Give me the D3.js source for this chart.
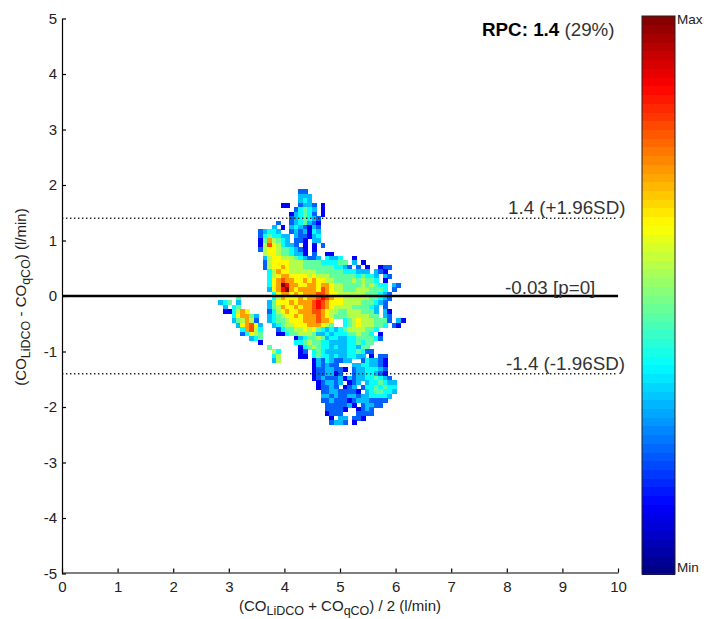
<!DOCTYPE html>
<html><head><meta charset="utf-8">
<script src="https://cdn.jsdelivr.net/npm/d3@7"></script>
<style>html,body{margin:0;background:#fff}svg{display:block}text{font-family:"Liberation Sans",Arial,sans-serif;fill:#222}</style>
</head><body><svg id="c" width="706" height="619"></svg>
<script>
const xTicks=[0,1,2,3,4,5,6,7,8,9,10];
const yTicks=[-5,-4,-3,-2,-1,0,1,2,3,4,5];
const meanDiff=-0.03, upperLoA=1.4, lowerLoA=-1.4;
const binSize=0.08, gridX0=2.81, gridY0=1.92;
const levelKeys="123456789ab";
const levelValues=[.12,.22,.31,.38,.47,.55,.63,.72,.8,.87,1];
const densityRows=[
"                  22",
"                  333",
"                  343",
"              11  2332 1",
"                 24543 1",
"                134542 1",
"                2345432",
"             2  2345321",
"            3 1 3432132",
"         23443  2323143",
"         2454433 322134",
"         1586543 221 33",
"         169764332 1 1 2",
"         26776554321 1",
"          6776554331 2  11",
"          3677666543223 4334  1",
"          2677776665555444455 3 1",
"          26778766655555554432 2 1  122",
"           46877666666555555444333 321",
"           4678877776766655555545443 32",
"           4789887787877665555656554 1",
"           478ba8877887887665555656544 32",
"           378ab8788887987665556665554 2",
"            478878788899877666666555432",
"    5       46877787889a987766666655432",
"345 3      35777878889a987776666555432",
" 3 45      35687787889a9876666555543 2",
" 114687    2467877888998766556665553 31",
"   478853  3456778788898765556666655 32",
"   356862  345567778889887  45676665552 31",
"    378973  34566777888765  4567666554 21",
"     48964   24556676754343456666554",
"     24765   1145566653343444556554 1",
"       345       13455653443344555542",
"         1       445655443333445455",
"           5      1456544343344355",
"            64    12 45433333445422",
"            46    11 454434334433 1 22",
"            36       132432233  243321",
"                     132322   33443321",
"                     12233221 23344432",
"                     1223312  23344321",
"                     123222313233445432",
"                      123323 123 3445433",
"                      12232 123 24454544",
"                       223322221 3455443",
"                       3323223323344443",
"                       223222123332222",
"                        2222231 23322",
"                        22221  1232",
"                        1222   2222",
"                         1 33 221",
"                         2332 1"
];
const W=706,H=619,plot={l:62,r:618,t:18.5,b:573.5,axisY:572.5};
const svg=d3.select("#c");
const x=d3.scaleLinear().domain([0,10]).range([plot.l,plot.r]);
const y=d3.scaleLinear().domain([-5,5]).range([plot.b,plot.t]);
const clamp=d3.scaleLinear().domain([0,1]).range([0,1]).clamp(true);
function jet(t){const f=c=>Math.round(255*clamp(1.5-Math.abs(4*t-c)));return d3.rgb(f(3),f(2),f(1)).formatHex();}
const levelOf=d3.scaleOrdinal().domain([...levelKeys]).range(levelValues);

// density cells
const cells=densityRows.flatMap((row,r)=>[...row].map((ch,c)=>({ch,r,c})).filter(d=>d.ch!==" "));
const cw=x(binSize)-x(0), ch=y(0)-y(binSize);
svg.append("g").attr("shape-rendering","crispEdges").selectAll("rect").data(cells).join("rect")
  .attr("x",d=>x(gridX0+d.c*binSize)).attr("y",d=>y(gridY0-d.r*binSize))
  .attr("width",cw+.5).attr("height",ch+.5).attr("fill",d=>jet(levelOf(d.ch)));

// reference lines
const lineG=svg.append("g");
lineG.selectAll("line.loa").data([upperLoA,lowerLoA]).join("line").attr("class","loa")
  .attr("x1",x(0)).attr("x2",x(10)).attr("y1",d=>y(d)).attr("y2",d=>y(d))
  .attr("stroke","#222").attr("stroke-width",1.4).attr("stroke-dasharray","1.4 2.6");
lineG.append("line").attr("x1",x(0)).attr("x2",x(10)).attr("y1",y(0)).attr("y2",y(0))
  .attr("stroke","#000").attr("stroke-width",2.6);

// axes
const ax=svg.append("g").attr("transform",`translate(0,${plot.axisY})`)
  .call(d3.axisBottom(x).tickValues(xTicks).tickSize(-4).tickSizeOuter(0).tickPadding(6).tickFormat(d3.format("d")));
const ay=svg.append("g").attr("transform",`translate(${plot.l},0)`)
  .call(d3.axisLeft(y).tickValues(yTicks).tickSize(-4).tickSizeOuter(0).tickPadding(5).tickFormat(d=>d));
[ax,ay].forEach(a=>{a.selectAll("text").style("font-size","15px").style("font-family",'"Liberation Sans"').attr("fill","#222");
  a.selectAll("path,line").attr("stroke","#000").attr("stroke-width",1.2);});
ax.selectAll("text").attr("y",9);
ay.selectAll("text").attr("dy","0.3em");

function sublabel(sel){
  sel.append("tspan").text("(CO");
  sel.append("tspan").text("LiDCO").attr("dy",4).style("font-size","12.5px");
}
const xl=svg.append("text").attr("x",340).attr("y",611).attr("text-anchor","middle").style("font-size","15px");
sublabel(xl);
xl.append("tspan").text(" + CO").attr("dy",-4);
xl.append("tspan").text("qCO").attr("dy",4).style("font-size","12.5px");
xl.append("tspan").text(") / 2 (l/min)").attr("dy",-4);
const yl=svg.append("text").attr("transform",`translate(26,297) rotate(-90)`).attr("text-anchor","middle").style("font-size","15px");
sublabel(yl);
yl.append("tspan").text(" - CO").attr("dy",-4);
yl.append("tspan").text("qCO").attr("dy",4).style("font-size","12.5px");
yl.append("tspan").text(") (l/min)").attr("dy",-4);

// annotations
const ann=[[upperLoA,"1.4 (+1.96SD)",508,4],[meanDiff,"-0.03 [p=0]",505,4],[lowerLoA,"-1.4 (-1.96SD)",506,4]];
svg.append("g").selectAll("text").data(ann).join("text")
  .attr("x",d=>d[2]).attr("y",d=>y(d[0])-d[3]).text(d=>d[1]).style("font-size","18.8px").style("fill","#333");
const rpc=svg.append("text").attr("x",482).attr("y",36).style("font-size","18.8px");
rpc.append("tspan").text("RPC: 1.4").style("font-weight","bold").style("fill","#000");
rpc.append("tspan").text(" (29%)").style("fill","#333");

// colour bar
const barSteps=d3.range(64);
const bar={l:642,r:675,t:16,b:574};
const by=d3.scaleBand().domain(barSteps).range([bar.b,bar.t]);
svg.append("g").attr("shape-rendering","crispEdges").selectAll("rect").data(barSteps).join("rect")
  .attr("x",bar.l).attr("width",bar.r-bar.l).attr("y",d=>by(d)).attr("height",by.bandwidth()+.6)
  .attr("fill",d=>jet(0.5/64+d/64));
svg.append("rect").attr("x",bar.l).attr("y",bar.t).attr("width",bar.r-bar.l).attr("height",bar.b-bar.t)
  .attr("fill","none").attr("stroke","#222").attr("stroke-width",1);
svg.append("text").attr("x",677).attr("y",24).text("Max").style("font-size","13.5px");
svg.append("text").attr("x",677).attr("y",572).text("Min").style("font-size","13.5px");
</script></body></html>
